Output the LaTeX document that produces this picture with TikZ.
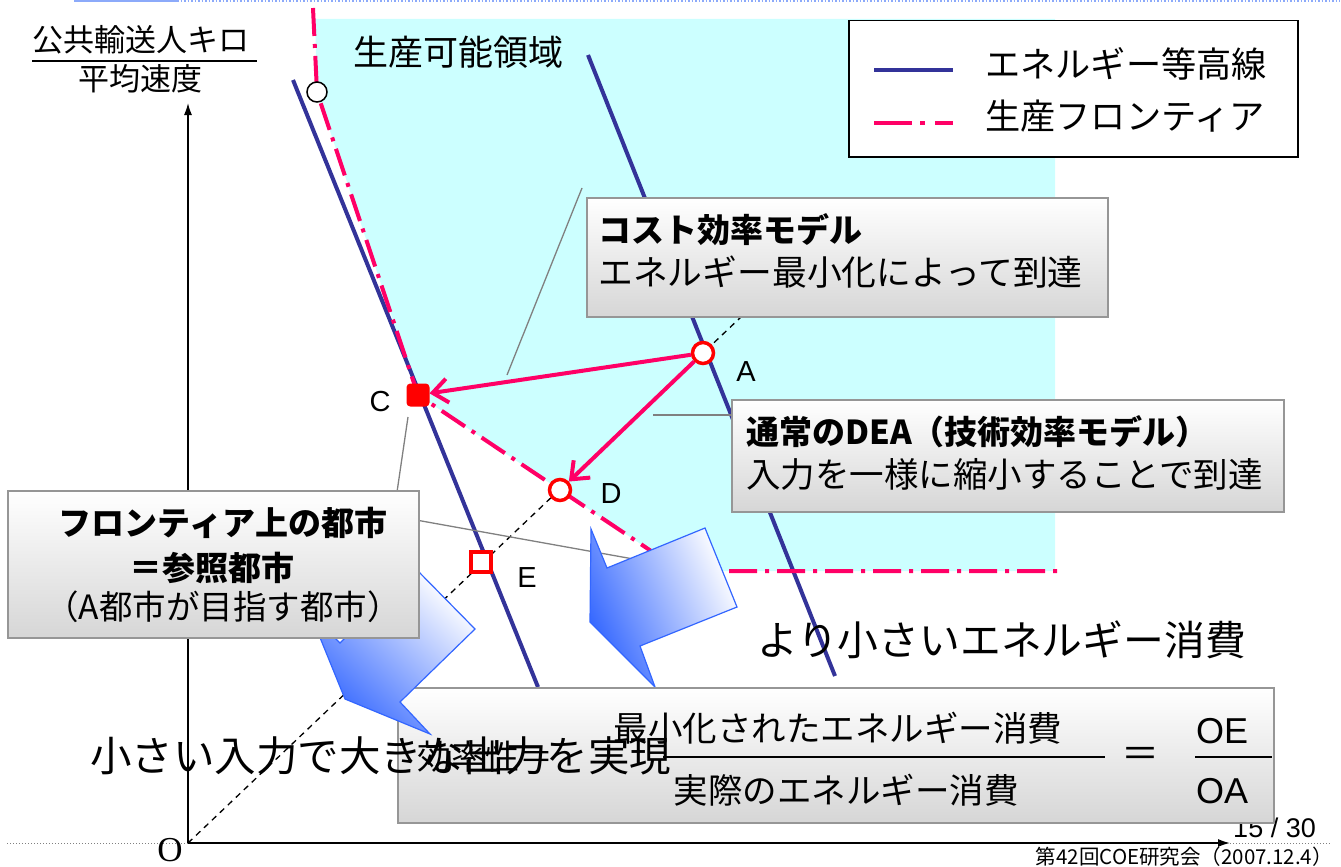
\documentclass[tikz,border=0pt]{standalone}
\usepackage{fontspec}
\setmainfont{Noto Sans CJK JP}
\newfontfamily\latinsans{Liberation Sans}
\newfontfamily\latinserif{Liberation Serif}
\usetikzlibrary{arrows.meta}
\definecolor{cyanbg}{RGB}{204,255,255}
\definecolor{navy}{RGB}{51,51,153}
\definecolor{frontpink}{RGB}{255,0,102}
\definecolor{arrowblue}{RGB}{51,102,255}
\definecolor{topblue}{RGB}{140,170,250}
\definecolor{boxgray}{RGB}{214,214,214}
\definecolor{boxline}{RGB}{150,150,150}
\definecolor{calloutgray}{RGB}{128,128,128}
\newcommand\fsz[1]{\fontsize{#1}{#1}\selectfont}
\begin{document}
\begin{tikzpicture}[x=1pt,y=-1pt,
  iso/.style={draw=navy, line width=4pt},
  front/.style={draw=frontpink, line width=4pt, dash pattern=on 28pt off 8pt on 4pt off 8pt},
  callout/.style={draw=calloutgray, line width=1.3pt},
  move/.style={draw=frontpink, line width=4pt, -{Straight Barb[length=15pt,width=24pt]}},
  ring/.style={circle, draw=red, fill=white, line width=3.5pt, minimum size=21pt, inner sep=0pt},
  box/.style={draw=boxline, line width=1.8pt, top color=white, bottom color=boxgray, anchor=north west, inner sep=0pt},
  blockarrow/.style={draw=arrowblue, line width=1.2pt, left color=arrowblue, right color=white},
  txt/.style={inner sep=0pt},
  lbl/.style={inner sep=0pt, font=\latinsans\fsz{29}},
  axis/.style={line width=1.5pt, -{Latex[length=12pt,width=8pt]}},
  guide/.style={line width=1.3pt, dash pattern=on 6pt off 5pt}
]
\useasboundingbox (0,0) rectangle (1341,867);

% top rule
\draw[topblue, line width=2.5pt] (74,1) -- (177,1);
\draw[topblue, line width=1.5pt, dotted] (177,1) -- (1340,1);

% key points
\coordinate (O) at (188,843);
\coordinate (Fp) at (317,92);
\coordinate (Cp) at (418,395);
\coordinate (Dp) at (560,490);
\coordinate (Ap) at (703,353);
\coordinate (Ep) at (481,562);
\coordinate (Ftop) at (313,8);
\coordinate (K) at (681,571);
\coordinate (Kend) at (1065,571);

% production possibility region
\fill[cyanbg] (315,19) -- (Fp) -- (Cp) -- (Dp) -- (K) -- (1055,571) -- (1055,19) -- cycle;

% axes
\coordinate (ytip) at (188,103);
\coordinate (xtip) at (1230,843);
\coordinate (xleft) at (7,843);
\coordinate (xright) at (1330,843);
\draw[axis] (O) -- (ytip);
\draw[axis] (O) -- (xtip);
\draw[gray, line width=1pt, dotted] (xleft) -- (O);
\draw[gray, line width=1pt, dotted] (xtip) -- (xright);

% ray from origin through A
\coordinate (rayend) at (762,297);
\draw[guide] (O) -- (rayend);

% energy isoquants
\coordinate (iso1a) at (293,80);
\coordinate (iso1b) at (538,687);
\coordinate (iso2a) at (588,55);
\coordinate (iso2b) at (835,676);
\draw[iso] (iso1a) -- (iso1b);
\draw[iso] (iso2a) -- (iso2b);

% production frontier
\draw[front] (Ftop) -- (Fp) -- (Cp) -- (Dp) -- (K) -- (Kend);

% callout lines
\draw[callout] (507,375) -- (582,188);
\draw[callout] (653,415) -- (733,415);
\draw[callout] (397,492) -- (408,417);
\draw[callout] (416,520) -- (678,567);

% markers
\node[circle, draw=black, fill=white, line width=1.5pt, minimum size=20pt, inner sep=0pt] (F) at (Fp) {};
\node[ring] (A) at (Ap) {};
\node[ring] (D) at (Dp) {};
\node[draw=red, fill=red, line width=2pt, rounded corners=3pt, minimum size=21pt, inner sep=0pt] (C) at (Cp) {};
\node[draw=red, fill=white, line width=3.5pt, minimum size=20pt, inner sep=0pt] (E) at (Ep) {};

% movements
\draw[move] (A) -- (C);
\draw[move] (A) -- (D);

% point labels
\node[lbl] (labA) at (746,372) {A};
\node[lbl] (labC) at (380,402) {C};
\node[lbl] (labD) at (611,494) {D};
\node[lbl] (labE) at (527,578) {E};
\node[txt, font=\latinserif\fsz{35}] (labO) at (170,850) {O};

% y-axis label
\node[txt, font=\fsz{31}] (ylab1) at (141,40) {公共輸送人キロ};
\node[txt, font=\fsz{31}] (ylab2) at (140,79) {平均速度};
\draw[line width=1.3pt] (32,61) -- (257,61);

\node[txt, font=\fsz{35}] (region) at (458,52) {生産可能領域};

% legend
\node[draw=black, fill=white, line width=1.5pt, anchor=north west, minimum width=449pt, minimum height=136pt, inner sep=0pt] (legend) at (848,20) {};
\coordinate (lg1a) at (874,70);
\coordinate (lg1b) at (953,70);
\coordinate (lg2a) at (874,123);
\coordinate (lg2b) at (953,123);
\draw[iso] (lg1a) -- (lg1b);
\draw[draw=frontpink, line width=4pt, dash pattern=on 38pt off 8pt on 5pt off 10pt on 20pt] (lg2a) -- (lg2b);
\node[txt, anchor=west, font=\fsz{35.2}] (lgt1) at (985,64) {エネルギー等高線};
\node[txt, anchor=west, font=\fsz{35.2}] (lgt2) at (985,116) {生産フロンティア};

% cost efficiency box
\node[box, minimum width=521pt, minimum height=119pt] (cost) at (586,197) {};
\node[txt, anchor=west, font=\bfseries\fsz{33}] (cost1) at (598,230) {コスト効率モデル};
\node[txt, anchor=west, font=\fsz{34.8}] (cost2) at (598,272) {エネルギー最小化によって到達};

% DEA box
\node[box, minimum width=552pt, minimum height=112pt] (dea) at (731,399) {};
\node[txt, anchor=west, font=\bfseries\fsz{33}] (dea1) at (746,432) {通常のDEA（技術効率モデル）};
\node[txt, anchor=west, font=\fsz{34.5}] (dea2) at (746,474) {入力を一様に縮小することで到達};

% block arrow 1
\shade[blockarrow, shading angle=114] (705,528) -- (737,607) -- (640,646) -- (655,687) -- (590,622) -- (591,529) -- (607,568) -- cycle;

\node[txt, anchor=west, font=\fsz{40.8}] (smaller) at (757,640) {より小さいエネルギー消費};

\node[txt, anchor=base east, font=\latinsans\fsz{27}] (page) at (1316,837) {15 / 30};
\node[txt, anchor=east, font=\fsz{20.5}] (footer) at (1333,857) {第42回COE研究会（2007.12.4）};

% efficiency box
\node[box, minimum width=876pt, minimum height=135pt] (eff) at (397,687) {};
\node[txt, anchor=west, font=\fsz{34}] (effname) at (417,757) {効率性＝};
\node[txt, font=\fsz{34.5}] (num) at (838,728) {最小化されたエネルギー消費};
\node[txt, font=\fsz{34.5}] (den) at (846,790) {実際のエネルギー消費};
\draw[line width=1.5pt] (663,757) -- (1105,757);
\node[txt, font=\fsz{38}] (eq) at (1140,757) {＝};
\node[txt, font=\latinsans\fsz{36}] (OE) at (1222,731) {OE};
\node[txt, font=\latinsans\fsz{36}] (OA) at (1222,791) {OA};
\draw[line width=1.5pt] (1195,757) -- (1272,757);

% block arrow 2
\shade[blockarrow, shading angle=137] (415,568) -- (475,629) -- (400,702) -- (430,734) -- (345,699) -- (310,613) -- (340,643) -- cycle;

% frontier city box
\node[box, minimum width=411pt, minimum height=147pt] (city) at (7,490) {};
\node[txt, font=\bfseries\fsz{33}] (city1) at (223,523) {フロンティア上の都市};
\node[txt, font=\bfseries\fsz{33}] (city2) at (212,568) {＝参照都市};
\node[txt, font=\fsz{33.5}] (city3) at (223,607) {（A都市が目指す都市）};

\node[txt, anchor=west, font=\fsz{41.5}] (slogan) at (90,756) {小さい入力で大きな出力を実現};
\end{tikzpicture}
\end{document}
